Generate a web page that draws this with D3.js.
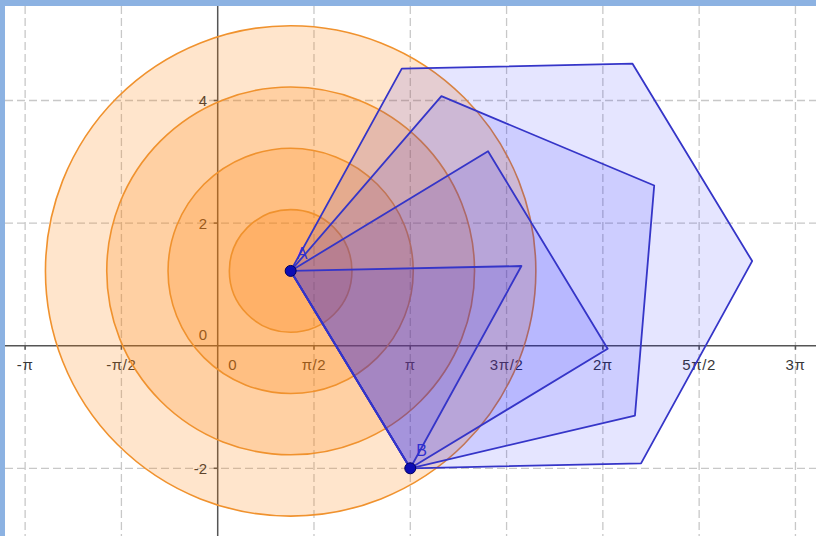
<!DOCTYPE html>
<html>
<head>
<meta charset="utf-8">
<script src="https://cdn.jsdelivr.net/npm/d3@7"></script>
<style>
  body { margin: 0; background: #fff; }
  svg { display: block; font-family: "Liberation Sans", Arial, sans-serif; }
</style>
</head>
<body>
<svg id="chart"></svg>
<script>
// Data
const xTickValues = [-2, -1, 0, 1, 2, 3, 4, 5, 6].map(k => k * Math.PI / 2);
const xTickLabels = ["-π", "-π/2", "0", "π/2", "π", "3π/2", "2π", "5π/2", "3π"];
const yTickValues = [-2, 0, 2, 4];
const yTickLabels = ["-2", "0", "2", "4"];
const pointA = [1.19, 1.22];
const pointB = [Math.PI, -2];
const circleRadii = [4, 3, 2, 1];
const polygonSides = [6, 5, 4, 3];

const W = 816, H = 536;
const frame = { top: 6, left: 5 };

// one unit = 61.3 px on both axes, origin at (217.7, 345.7)
const unit = 61.3, ox = 217.7, oy = 345.7;
const x = d3.scaleLinear()
    .domain([(frame.left - ox) / unit, (W - ox) / unit])
    .range([frame.left, W]);
const y = d3.scaleLinear()
    .domain([(oy - H) / unit, (oy - frame.top) / unit])
    .range([H, frame.top]);

const svg = d3.select("#chart").attr("width", W).attr("height", H);

// grid
const grid = svg.append("g")
    .attr("stroke", "#c8c8c8")
    .attr("stroke-width", 1.3)
    .attr("stroke-dasharray", "8,4");
grid.selectAll(".gx")
    .data(xTickValues.filter(v => v !== 0))
    .enter().append("line")
    .attr("x1", d => x(d)).attr("x2", d => x(d))
    .attr("y1", frame.top).attr("y2", H);
grid.selectAll(".gy")
    .data(yTickValues.filter(v => v !== 0))
    .enter().append("line")
    .attr("x1", frame.left).attr("x2", W)
    .attr("y1", d => y(d)).attr("y2", d => y(d));

// axes
const axes = svg.append("g").attr("stroke", "#555").attr("stroke-width", 1.5);
axes.append("line")
    .attr("x1", frame.left).attr("x2", W)
    .attr("y1", y(0)).attr("y2", y(0));
axes.append("line")
    .attr("x1", x(0)).attr("x2", x(0))
    .attr("y1", frame.top).attr("y2", H);
axes.selectAll(".tx")
    .data(xTickValues.filter(v => v !== 0))
    .enter().append("line")
    .attr("x1", d => x(d)).attr("x2", d => x(d))
    .attr("y1", y(0)).attr("y2", y(0) + 4);
axes.selectAll(".ty")
    .data(yTickValues.filter(v => v !== 0))
    .enter().append("line")
    .attr("x1", x(0) - 4).attr("x2", x(0))
    .attr("y1", d => y(d)).attr("y2", d => y(d));

// tick labels
const labels = svg.append("g").attr("fill", "#383838").attr("font-size", 15);
labels.selectAll(".lx")
    .data(xTickValues)
    .enter().append("text")
    .attr("x", d => d === 0 ? x(0) + 15 : x(d))
    .attr("y", y(0) + 24.5)
    .attr("text-anchor", "middle")
    .attr("letter-spacing", 0.6)
    .text((d, i) => xTickLabels[i]);
labels.selectAll(".ly")
    .data(yTickValues)
    .enter().append("text")
    .attr("x", x(0) - 10.5)
    .attr("y", d => d === 0 ? y(0) - 6 : y(d) + 5.5)
    .attr("text-anchor", "end")
    .text((d, i) => yTickLabels[i]);

// circles around A
svg.append("g").selectAll("circle")
    .data(circleRadii)
    .enter().append("circle")
    .attr("cx", x(pointA[0]))
    .attr("cy", y(pointA[1]))
    .attr("r", d => x(d) - x(0))
    .attr("fill", "rgba(255,127,0,0.2)")
    .attr("stroke", "#f0922e")
    .attr("stroke-width", 1.6);

// regular polygons built on edge AB (counter-clockwise)
function regularPolygon(a, b, n) {
  const pts = [a, b];
  const vx = b[0] - a[0], vy = b[1] - a[1];
  for (let k = 1; k < n - 1; k++) {
    const t = k * 2 * Math.PI / n;
    const p = pts[pts.length - 1];
    pts.push([p[0] + vx * Math.cos(t) - vy * Math.sin(t),
              p[1] + vx * Math.sin(t) + vy * Math.cos(t)]);
  }
  return pts;
}

svg.append("g").selectAll("polygon")
    .data(polygonSides.map(n => regularPolygon(pointA, pointB, n)))
    .enter().append("polygon")
    .attr("points", d => d.map(p => [x(p[0]), y(p[1])].join(",")).join(" "))
    .attr("fill", "rgba(0,0,255,0.1)")
    .attr("stroke", "#3535c8")
    .attr("stroke-width", 1.8)
    .attr("stroke-linejoin", "round");

// points A and B
const pts = [{ name: "A", p: pointA }, { name: "B", p: pointB }];
svg.append("g").selectAll("circle")
    .data(pts)
    .enter().append("circle")
    .attr("cx", d => x(d.p[0]))
    .attr("cy", d => y(d.p[1]))
    .attr("r", 5.5)
    .attr("fill", "#0c0cb4")
    .attr("stroke", "#000060")
    .attr("stroke-width", 1);
svg.append("g").selectAll("text")
    .data(pts)
    .enter().append("text")
    .attr("x", d => x(d.p[0]) + 6)
    .attr("y", d => y(d.p[1]) - 12)
    .attr("fill", "#2f2fd0")
    .attr("font-size", 16)
    .text(d => d.name);

// blue frame on top and left
svg.append("rect").attr("x", 0).attr("y", 0).attr("width", W).attr("height", frame.top).attr("fill", "#8cb2e2");
svg.append("rect").attr("x", 0).attr("y", 0).attr("width", frame.left).attr("height", H).attr("fill", "#8cb2e2");
</script>
</body>
</html>
